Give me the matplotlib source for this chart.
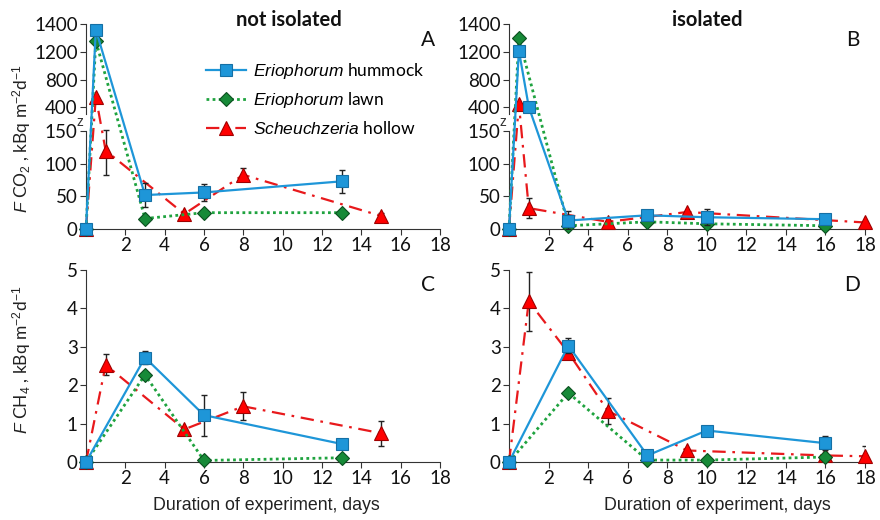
import numpy as np
import matplotlib
matplotlib.use("Agg")
import matplotlib.pyplot as plt

plt.rcParams['font.family'] = ['Lato', 'DejaVu Sans']
plt.rcParams['mathtext.fontset'] = 'custom'
plt.rcParams['mathtext.rm'] = 'Liberation Sans'
plt.rcParams['mathtext.it'] = 'Liberation Sans:italic'

# ---------------- data ----------------
# Panel A: CO2, not isolated
a_hum_x = [0, 0.5, 3, 6, 13]
a_hum_y = [0, 1360, 52, 56, 73]
a_hum_e = [0, 30, 19, 13, 18]
a_lawn_x = [0, 0.5, 3, 6, 13]
a_lawn_y = [0, 1280, 16, 25, 25]
a_hol_x = [0, 0.5, 1, 5, 8, 15]
a_hol_y = [0, 550, 120, 23, 83, 20]
a_hol_e = [0, 0, 37, 0, 10, 4]

# Panel B: CO2, isolated
b_hum_x = [0, 0.5, 1, 3, 7, 10, 16]
b_hum_y = [0, 1210, 400, 13, 21, 18, 15]
b_hum_e = [0, 20, 0, 15, 3, 12, 3]
b_lawn_x = [0, 0.5, 3, 7, 10, 16]
b_lawn_y = [0, 1300, 5, 11, 8, 5]
b_hol_x = [0, 0.5, 1, 5, 9, 18]
b_hol_y = [0, 445, 32, 11, 26, 10]
b_hol_e = [0, 0, 15, 0, 0, 0]

# Panel C: CH4, not isolated
c_hum_x = [0, 3, 6, 13]
c_hum_y = [0, 2.72, 1.22, 0.47]
c_hum_e = [0, 0.18, 0.53, 0]
c_lawn_x = [0, 3, 6, 13]
c_lawn_y = [0, 2.27, 0.04, 0.11]
c_hol_x = [0, 1, 5, 8, 15]
c_hol_y = [0, 2.53, 0.85, 1.45, 0.75]
c_hol_e = [0, 0.27, 0, 0.36, 0.33]

# Panel D: CH4, isolated
d_hum_x = [0, 3, 7, 10, 16]
d_hum_y = [0, 3.03, 0.17, 0.82, 0.49]
d_hum_e = [0, 0.19, 0, 0, 0.19]
d_lawn_x = [0, 3, 7, 10, 16]
d_lawn_y = [0, 1.80, 0.05, 0.05, 0.13]
d_hol_x = [0, 1, 3, 5, 9, 16, 18]
d_hol_y = [0, 4.18, 2.85, 1.33, 0.30, 0.17, 0.15]
d_hol_e = [0, 0.78, 0, 0.34, 0, 0, 0.27]

series_labels = [r'$\it{Eriophorum}$ hummock', r'$\it{Eriophorum}$ lawn',
                 r'$\it{Scheuchzeria}$ hollow']
co2_ticks = [0, 50, 100, 150, 400, 800, 1200, 1400]
ch4_ticks = [0, 1, 2, 3, 4, 5]
x_ticks = [2, 4, 6, 8, 10, 12, 14, 16, 18]

# broken-axis scale for CO2 panels
_val = np.array([0, 150, 400, 800, 1200, 1400], dtype=float)
_pos = np.array([0, 150, 187, 228, 271, 314], dtype=float)
def fwd(v):
    return np.interp(v, _val, _pos)
def inv(p):
    return np.interp(p, _pos, _val)

# ---------------- styles ----------------
blue = '#1E96D8'
green_line = '#1FA33F'
green_face = '#178A38'
red = '#E8191C'
styles = [
    dict(color=blue, ls='-', lw=1.6, marker='s', ms=8.5, mfc=blue, mec='#1570A5', mew=0.8),
    dict(color=green_line, ls=(0, (1, 1.2)), lw=2.0, marker='D', ms=7.5, mfc=green_face, mec='#0B4F1F', mew=0.8),
    dict(color=red, ls=(0, (6, 3, 1.2, 3)), lw=1.6, marker='^', ms=9.5, mfc='#FF0000', mec='#A00000', mew=0.8),
]

fig = plt.figure(figsize=(8.8, 5.2), dpi=100)
W, H = 880, 520
def ax_at(l, r, t, b):
    return fig.add_axes([l / W, 1 - b / H, (r - l) / W, (b - t) / H])

axA = ax_at(86, 440, 24, 229)
axB = ax_at(509, 865, 24, 229)
axC = ax_at(86, 440, 270, 462)
axD = ax_at(509, 865, 270, 462)

panels = [
    (axA, [(a_hum_x, a_hum_y, a_hum_e), (a_lawn_x, a_lawn_y, None), (a_hol_x, a_hol_y, a_hol_e)], 'A', True),
    (axB, [(b_hum_x, b_hum_y, b_hum_e), (b_lawn_x, b_lawn_y, None), (b_hol_x, b_hol_y, b_hol_e)], 'B', True),
    (axC, [(c_hum_x, c_hum_y, c_hum_e), (c_lawn_x, c_lawn_y, None), (c_hol_x, c_hol_y, c_hol_e)], 'C', False),
    (axD, [(d_hum_x, d_hum_y, d_hum_e), (d_lawn_x, d_lawn_y, None), (d_hol_x, d_hol_y, d_hol_e)], 'D', False),
]

zorders = [5, 4, 3]

for ax, data, letter, is_co2 in panels:
    if is_co2:
        ax.set_yscale('function', functions=(fwd, inv))
        ax.set_ylim(0, 1400)
        ax.set_yticks(co2_ticks)
        ax.set_yticklabels([str(t) for t in co2_ticks])
    else:
        ax.set_ylim(0, 5)
        ax.set_yticks(ch4_ticks)
        ax.set_yticklabels([str(t) for t in ch4_ticks])
    ax.set_xlim(0, 18)
    ax.set_xticks(x_ticks)
    ax.set_xticklabels([str(t) for t in x_ticks])
    ax.minorticks_off()
    for i, (x, y, e) in enumerate(data):
        st = styles[i]
        ax.plot(x, y, label=series_labels[i], zorder=zorders[i], clip_on=False, **st)
        if e is not None:
            xe = [xx for xx, ee in zip(x, e) if ee > 0]
            ye = [yy for yy, ee in zip(y, e) if ee > 0]
            ee_ = [ee for ee in e if ee > 0]
            ax.errorbar(xe, ye, yerr=ee_, fmt='none', ecolor='#222222',
                        elinewidth=1.0, capsize=2.5, capthick=1.0, zorder=zorders[i] - 0.5)
    for s in ['top', 'right']:
        ax.spines[s].set_visible(False)
    ax.spines['bottom'].set_color('#333333')
    ax.spines['left'].set_color('#333333')
    ax.tick_params(axis='both', direction='out', length=4, width=0.8, color='#333333',
                   labelsize=13.5, labelcolor='#111111', pad=2)
    ax.text(0.985, 0.92, letter, transform=ax.transAxes, ha='right', va='center',
            fontsize=15, color='#111111')
    if is_co2:
        ax.spines['left'].set_visible(False)
        tr = ax.get_yaxis_transform()
        ax.plot([0, 0], [0, 152], transform=tr, color='#333333', lw=0.8, clip_on=False, zorder=1)
        ax.plot([0, 0], [330, 1400], transform=tr, color='#333333', lw=0.8, clip_on=False, zorder=1)
        ax.text(-0.008, 244, 'z', transform=tr, ha='right', va='center', fontsize=10,
                color='#333333', family='Liberation Sans')

leg = axA.legend(loc='upper left', bbox_to_anchor=(0.32, 0.855), frameon=False,
                 fontsize=12.5, handlelength=2.3, labelspacing=0.55, handletextpad=0.4,
                 borderaxespad=0)

fig.text(289 / W, 1 - 20 / H, 'not isolated', ha='center', va='center', fontsize=14.5,
         fontweight='bold', color='#111111')
fig.text(707 / W, 1 - 20 / H, 'isolated', ha='center', va='center', fontsize=14.5,
         fontweight='bold', color='#111111')

fig.text(22 / W, 1 - 139 / H, r'$\it{F}$ CO$_2$ , kBq m$^{-2}$d$^{-1}$', rotation=90,
         ha='center', va='center', fontsize=12.5, color='#222222')
fig.text(22 / W, 1 - 360 / H, r'$\it{F}$ CH$_4$ , kBq m$^{-2}$d$^{-1}$', rotation=90,
         ha='center', va='center', fontsize=12.5, color='#222222')

fig.text(266 / W, 1 - 505 / H, 'Duration of experiment, days', ha='center', va='center',
         fontsize=12.8, color='#222222', family='Liberation Sans')
fig.text(717 / W, 1 - 505 / H, 'Duration of experiment, days', ha='center', va='center',
         fontsize=12.8, color='#222222', family='Liberation Sans')

fig.savefig('out.png', dpi=100)
